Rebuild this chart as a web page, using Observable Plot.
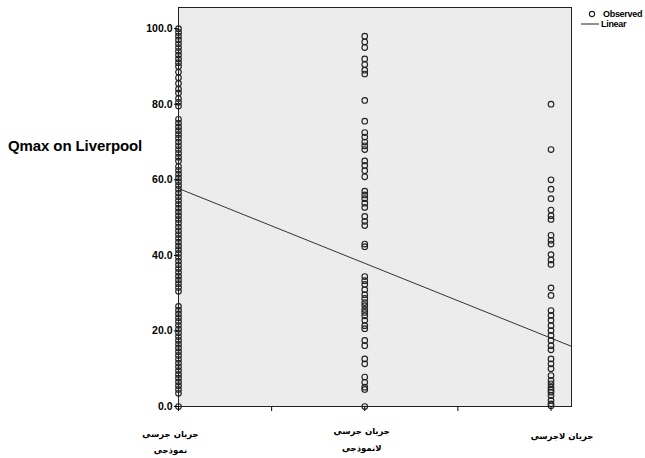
<!DOCTYPE html>
<html><head><meta charset="utf-8">
<script src="https://cdn.jsdelivr.net/npm/d3@7"></script>
<script src="https://cdn.jsdelivr.net/npm/@observablehq/plot@0.6"></script>
<style>
body{margin:0;background:#fff;}
#wrap{position:relative;width:645px;height:458px;overflow:hidden;font-family:"Liberation Sans",Arial,sans-serif;}
#ytitle{position:absolute;left:8px;top:137px;font-weight:bold;font-size:15px;letter-spacing:-0.1px;white-space:nowrap;color:#000;}
#legend{position:absolute;left:578px;top:6px;font-weight:bold;font-size:9px;letter-spacing:-0.3px;white-space:nowrap;color:#000;}
#legend .row{position:absolute;left:0;height:10px;display:flex;align-items:center;}
#legend svg{display:block}
g[aria-label="y-axis tick label"] text{font-weight:bold}
</style>
</head><body>
<div id="wrap">
  <div id="ytitle">Qmax on Liverpool</div>
  <div id="legend">
    <div class="row" style="top:3px"><svg width="24" height="10"><circle cx="14" cy="5" r="2.6" fill="none" stroke="#222" stroke-width="1.1"/></svg><span style="margin-left:1px">Observed</span></div>
    <div class="row" style="top:13px"><svg width="22" height="10"><line x1="3" x2="21" y1="5" y2="5" stroke="#222" stroke-width="1"/></svg><span style="margin-left:1px">Linear</span></div>
  </div>
</div>
<script>
// ---- data ----
const categories = ["جريان جرسي\nنموذجي", "جريان جرسي\nلانموذجي", "جريان لاجرسي"];
const groupNormal = [100, 99, 98, 97, 96, 95, 94, 93, 92, 91, 90, 88.5, 87, 85.5, 84, 83, 81.5, 80.5, 79.5, 76, 75, 74, 73, 72, 71, 70, 69, 68, 67, 66, 65, 63.5, 62.5, 61.5, 60.5, 59.5, 58.5, 57.5, 56.5, 55.5, 54.5, 53.5, 52.5, 51.5, 50.5, 49.5, 48.5, 47.5, 46.5, 45.5, 44.5, 43.5, 42.5, 41.5, 40.5, 39.5, 38.5, 37.5, 36.5, 35.5, 34.5, 33.5, 32.5, 31.5, 30.5, 26.5, 25.5, 24.5, 23.5, 22.5, 21.5, 20.5, 19.5, 18.5, 17.5, 16.5, 15.5, 14.5, 13.5, 12.5, 11.5, 10.5, 9.5, 8.5, 7.5, 6.5, 5.5, 4.5, 3.5, 0];
const groupAtypical = [98, 96.5, 95, 92, 90.5, 89, 88, 81, 75.5, 72.5, 71.3, 70, 69, 68, 65, 63.8, 62.4, 60.8, 57, 56, 55, 53.8, 52.7, 50.3, 49, 47.9, 43, 42.3, 34.4, 33.3, 32.3, 30.9, 29.6, 28.6, 27.5, 26.7, 25.7, 24.9, 24, 22.8, 21.4, 20.6, 17.5, 16.1, 12.6, 11.3, 7.8, 6.4, 5.1, 4.5, 0];
const groupNon = [80, 68, 60, 57.5, 55, 52, 50.5, 49.5, 45.3, 44, 43, 40.2, 38.8, 37.6, 31.4, 29.4, 25.4, 24.1, 22.8, 21.4, 20.1, 18.8, 17.5, 16.1, 15, 12.6, 11.3, 10, 8.2, 6.9, 6, 5.1, 4.4, 3.8, 2.9, 1.6, 0.7, 0.2];
const yTicks = [0, 20, 40, 60, 80, 100];
const fitIntercept = 77.5;   // linear fit: y = a + b * group
const fitSlope = -19.8;

// ---- build tables ----
const groups = [groupNormal, groupAtypical, groupNon];
const points = groups.flatMap((vals, i) => vals.map(v => ({x: i + 1, y: v})));
const labels = categories.map((c, i) => ({x: i + 1, label: c}));
const xDomain = [1, 3.11];
const fitPts = xDomain.map(x => ({x, y: fitIntercept + fitSlope * x}));

const labelMark = (i, dx, dy) => Plot.text(labels.filter(d => d.x === i + 1), {
  x: "x", text: "label", frameAnchor: "bottom", lineAnchor: "middle",
  dx, dy, lineHeight: 1.95, fontSize: 8.5, fontWeight: "bold",
  fontFamily: "DejaVu Sans", fill: "#000"
});

const chart = Plot.plot({
  width: 645, height: 458,
  marginLeft: 178, marginRight: 74, marginTop: 7, marginBottom: 52,
  x: {domain: xDomain},
  y: {domain: [0, 105.6]},
  style: {fontFamily: "Liberation Sans, Arial, sans-serif", background: "transparent", color: "#000"},
  marks: [
    Plot.frame({fill: "#ececec"}),
    Plot.line(fitPts, {x: "x", y: "y", stroke: "#333", strokeWidth: 1}),
    Plot.dot(points, {x: "x", y: "y", r: 2.8, stroke: "#222", strokeWidth: 1.15, fill: "none"}),
    Plot.frame({stroke: "#222", strokeWidth: 1}),
    Plot.axisY({ticks: yTicks, tickFormat: d3.format(".1f"), tickSize: 4, tickPadding: 2, fontSize: 10.5, fontWeight: "bold", label: null}),
    Plot.axisX({ticks: [1, 1.5, 2, 2.5, 3], tickFormat: () => "", tickSize: 5, label: null}),
    labelMark(0, -8, 33),
    labelMark(1, -3, 30.5),
    labelMark(2, 11, 27)
  ]
});
document.getElementById("wrap").prepend(chart);
</script>
</body></html>
